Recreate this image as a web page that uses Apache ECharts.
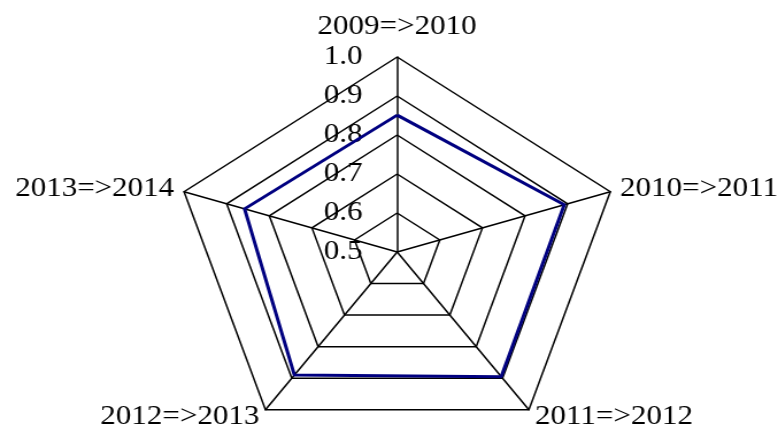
<!DOCTYPE html>
<html>
<head>
<meta charset="utf-8">
<script src="https://cdn.jsdelivr.net/npm/echarts@6/dist/echarts.min.js"></script>
<style>
  html, body { margin: 0; padding: 0; background: #fff; overflow: hidden; }
  /* the reference is stretched horizontally, so draw narrower and stretch */
  #main { width: 677px; height: 428px; transform: scaleX(1.1492); transform-origin: 0 0; }
</style>
</head>
<body>
<div id="main"></div>
<script>
  const periods = ["2009=>2010", "2010=>2011", "2011=>2012", "2012=>2013", "2013=>2014"];
  const values = [0.851, 0.892, 0.895, 0.89, 0.858];
  const axisMin = 0.5;
  const axisMax = 1.0;

  const font = "Liberation Serif";

  const myChart = echarts.init(document.getElementById("main"), null, { renderer: "canvas" });

  // echarts lays radar axes out counter-clockwise, the picture goes clockwise
  const order = [0, 4, 3, 2, 1];

  const indicator = order.map((k, i) => {
    const item = { name: periods[k], min: axisMin, max: axisMax };
    if (i === 0) {
      // only the first axis carries the tick labels
      item.axisLabel = {
        show: true,
        color: "#000",
        fontFamily: font,
        fontSize: 27,
        margin: 30,
        formatter: (v) => v.toFixed(1)
      };
      item.nameGap = 17;
    }
    return item;
  });

  const option = {
    animation: false,
    radar: {
      center: [345.6, 252],
      radius: 195,
      startAngle: 90,
      splitNumber: 5,
      shape: "polygon",
      nameGap: 9,
      indicator: indicator,
      axisName: {
        color: "#000",
        fontFamily: font,
        fontSize: 27
      },
      axisLine: { lineStyle: { color: "#000", width: 1.5 } },
      splitLine: { lineStyle: { color: "#000", width: 1.5 } },
      splitArea: { show: false },
      axisTick: { show: false },
      axisLabel: { show: false }
    },
    series: [
      {
        type: "radar",
        symbol: "none",
        lineStyle: { color: "#000080", width: 3 },
        data: [{ value: order.map((k) => values[k]) }]
      }
    ]
  };

  option && myChart.setOption(option);
</script>
</body>
</html>
